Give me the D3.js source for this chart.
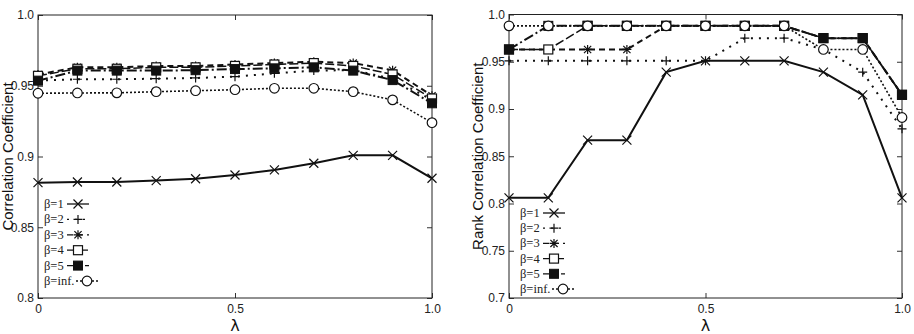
<!DOCTYPE html>
<html><head><meta charset="utf-8">
<script src="https://cdn.jsdelivr.net/npm/d3@7"></script>
<style>body{margin:0;background:#fff}svg{display:block}</style>
</head><body>
<svg id="c" width="914" height="334"></svg>
<script>
const lambdas = [0,0.1,0.2,0.3,0.4,0.5,0.6,0.7,0.8,0.9,1.0];
const seriesNames = ["β=1","β=2","β=3","β=4","β=5","β=inf."];
const xTicks = [0,0.5,1.0];
const xTickLabels = ["0","0.5","1.0"];
const leftYTicks = [0.8,0.85,0.9,0.95,1.0];
const leftYTickLabels = ["0.8","0.85","0.9","0.95","1.0"];
const rightYTicks = [0.7,0.75,0.8,0.85,0.9,0.95,1.0];
const rightYTickLabels = ["0.7","0.75","0.8","0.85","0.9","0.95","1.0"];

// Left chart: Correlation Coefficient
const corrB1   = [0.8815,0.882,0.882,0.883,0.8843,0.8869,0.8905,0.8952,0.9008,0.9008,0.8846];
const corrB2   = [0.9536,0.9546,0.9546,0.955,0.9555,0.9564,0.9588,0.9607,0.961,0.955,0.940];
const corrB3   = [0.958,0.963,0.963,0.964,0.964,0.965,0.966,0.967,0.966,0.961,0.943];
const corrB4   = [0.957,0.962,0.962,0.963,0.963,0.964,0.965,0.966,0.964,0.958,0.941];
const corrB5   = [0.9536,0.9607,0.9607,0.9607,0.961,0.9618,0.9623,0.963,0.9607,0.954,0.9376];
const corrBinf = [0.9447,0.9449,0.945,0.9458,0.9465,0.9472,0.9482,0.9482,0.9458,0.940,0.9239];

// Right chart: Rank Correlation Coefficient
const rankB1   = [0.806,0.806,0.867,0.867,0.939,0.951,0.951,0.951,0.939,0.915,0.806];
const rankB2   = [0.951,0.951,0.951,0.951,0.951,0.951,0.975,0.975,0.963,0.939,0.879];
const rankB3   = [0.963,0.963,0.963,0.963,0.988,0.988,0.988,0.988,0.975,0.975,0.915];
const rankB4   = [0.963,0.963,0.988,0.988,0.988,0.988,0.988,0.988,0.975,0.975,0.915];
const rankB5   = [0.963,0.988,0.988,0.988,0.988,0.988,0.988,0.988,0.975,0.975,0.915];
const rankBinf = [0.988,0.988,0.988,0.988,0.988,0.988,0.988,0.988,0.963,0.963,0.891];

const styles = [
  {dash:null, w:2, marker:"x"},
  {dash:"2,6", w:2, marker:"plus"},
  {dash:"6,4", w:2, marker:"star"},
  {dash:"9,3", w:1.5, marker:"osq"},
  {dash:"10,3,2,3", w:2, marker:"fsq"},
  {dash:"2,2", w:1.6, marker:"circ"}
];

const svg = d3.select("#c");
const ink = "#111";

function drawMarker(g, type, x, y){
  const s = 4.5;
  if(type==="x"){
    g.append("path").attr("d",`M${x-s},${y-s}L${x+s},${y+s}M${x-s},${y+s}L${x+s},${y-s}`).attr("stroke",ink).attr("stroke-width",1.2).attr("fill","none");
  } else if(type==="plus"){
    g.append("path").attr("d",`M${x-s},${y}L${x+s},${y}M${x},${y-s}L${x},${y+s}`).attr("stroke",ink).attr("stroke-width",1.2).attr("fill","none");
  } else if(type==="star"){
    g.append("path").attr("d",`M${x-s},${y}L${x+s},${y}M${x},${y-s}L${x},${y+s}M${x-s*0.8},${y-s*0.8}L${x+s*0.8},${y+s*0.8}M${x-s*0.8},${y+s*0.8}L${x+s*0.8},${y-s*0.8}`).attr("stroke",ink).attr("stroke-width",1.2).attr("fill","none");
  } else if(type==="osq"){
    g.append("rect").attr("x",x-4.5).attr("y",y-4.5).attr("width",9).attr("height",9).attr("fill","#fff").attr("stroke",ink).attr("stroke-width",1.2);
  } else if(type==="fsq"){
    g.append("rect").attr("x",x-4.5).attr("y",y-4.5).attr("width",9).attr("height",9).attr("fill",ink).attr("stroke",ink).attr("stroke-width",1);
  } else if(type==="circ"){
    g.append("circle").attr("cx",x).attr("cy",y).attr("r",4.8).attr("fill","#fff").attr("stroke",ink).attr("stroke-width",1.2);
  }
}

function chart(cfg){
  const x = d3.scaleLinear().domain([0,1]).range([cfg.x0,cfg.x1]);
  const y = d3.scaleLinear().domain(cfg.ydom).range([cfg.y1,cfg.y0]);
  const g = svg.append("g");
  const yAxL = d3.axisLeft(y).tickValues(cfg.yticks).tickSize(-5).tickFormat((d,i)=>cfg.ylabels[i]).tickPadding(4);
  const yAxR = d3.axisRight(y).tickValues(cfg.yticks).tickSize(-5).tickFormat("");
  const xAxB = d3.axisBottom(x).tickValues(xTicks).tickSize(-5).tickFormat((d,i)=>xTickLabels[i]).tickPadding(6);
  const xAxT = d3.axisTop(x).tickValues(xTicks).tickSize(-5).tickFormat("");
  const gl = g.append("g").attr("transform",`translate(${cfg.x0},0)`).call(yAxL);
  const gr = g.append("g").attr("transform",`translate(${cfg.x1},0)`).call(yAxR);
  const gb = g.append("g").attr("transform",`translate(0,${cfg.y1})`).call(xAxB);
  const gt = g.append("g").attr("transform",`translate(0,${cfg.y0})`).call(xAxT);
  [gl,gr,gb,gt].forEach(a=>{
    a.select(".domain").remove();
    a.selectAll("line").attr("stroke","#333").attr("stroke-width",1);
    a.selectAll("text").attr("font-family","Liberation Sans, Arial, sans-serif").attr("font-size",12).attr("fill","#222");
  });
  g.append("rect").attr("x",cfg.x0).attr("y",cfg.y0).attr("width",cfg.x1-cfg.x0).attr("height",cfg.y1-cfg.y0).attr("fill","none").attr("stroke","#222").attr("stroke-width",1);

  const line = d3.line().x((d,i)=>x(lambdas[i])).y(d=>y(d));
  const lineOrder = [5,1,0,2,3,4];
  lineOrder.forEach(k=>{
    const st = styles[k];
    g.append("path").attr("d",line(cfg.series[k])).attr("fill","none").attr("stroke",ink).attr("stroke-width",st.w).attr("stroke-dasharray",st.dash);
  });
  const markOrder = [1,0,2,3,4,5];
  markOrder.forEach(k=>{
    cfg.series[k].forEach((v,i)=>drawMarker(g,styles[k].marker,x(lambdas[i]),y(v)));
  });

  const lg = g.append("g");
  seriesNames.forEach((nm,k)=>{
    const ly = cfg.legY + k*cfg.legStep;
    lg.append("text").attr("x",cfg.legX).attr("y",ly+4).text(nm).attr("font-family","Liberation Serif, Times New Roman, serif").attr("font-size",12.5).attr("fill","#222");
    const sx = cfg.legX + (k===5?32:23);
    const st = styles[k];
    lg.append("line").attr("x1",sx).attr("x2",sx+22).attr("y1",ly).attr("y2",ly).attr("stroke",ink).attr("stroke-width",1.3).attr("stroke-dasharray",st.dash);
    drawMarker(lg,st.marker,sx+11,ly);
  });

  svg.append("text").attr("transform",`translate(${cfg.ytx},${(cfg.y0+cfg.y1)/2}) rotate(-90)`).attr("text-anchor","middle")
    .attr("font-family","Liberation Sans, Arial, sans-serif").attr("font-size",15).attr("fill","#111").text(cfg.ytitle);
  svg.append("text").attr("x",(cfg.x0+cfg.x1)/2).attr("y",331).attr("text-anchor","middle")
    .attr("font-family","DejaVu Sans, sans-serif").attr("font-size",16).attr("fill","#111").text("λ");
}

chart({x0:38,x1:432,y0:15,y1:298,ydom:[0.8,1.0],yticks:leftYTicks,ylabels:leftYTickLabels,
  series:[corrB1,corrB2,corrB3,corrB4,corrB5,corrBinf],legX:44,legY:204,legStep:15.4,ytitle:"Correlation Coefficient",ytx:13});
chart({x0:509,x1:902,y0:14.5,y1:298,ydom:[0.7,1.0],yticks:rightYTicks,ylabels:rightYTickLabels,
  series:[rankB1,rankB2,rankB3,rankB4,rankB5,rankBinf],legX:520,legY:213,legStep:15.2,ytitle:"Rank Correlation Coefficient",ytx:483});
</script>
</body></html>
